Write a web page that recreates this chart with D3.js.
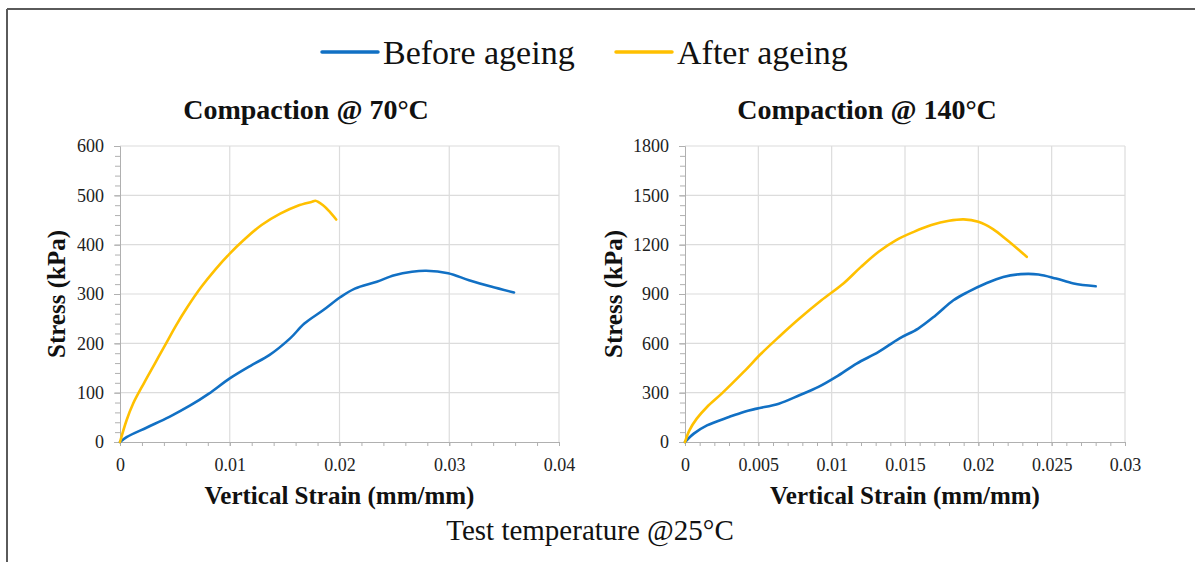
<!DOCTYPE html>
<html>
<head>
<meta charset="utf-8">
<script src="https://cdn.jsdelivr.net/npm/d3@7"></script>
<style>
  html, body { margin: 0; padding: 0; background: #fff; }
  svg { display: block; font-family: "Liberation Serif", "Times New Roman", serif; }
</style>
</head>
<body>
<svg id="chart" width="1195" height="562"></svg>
<script>
// Series names and colours
const seriesNames = ["Before ageing", "After ageing"];
const seriesColors = ["#1170C4", "#FFC000"];

// Compaction @ 70°C : [strain, stress kPa]
const before70 = [
  [0, 0], [0.0006, 10], [0.0025, 30], [0.0045, 51], [0.0064, 74], [0.0081, 98],
  [0.0100, 129], [0.0120, 156], [0.0136, 176], [0.0155, 210], [0.0168, 240],
  [0.0185, 267], [0.0201, 294], [0.0214, 311], [0.0234, 325], [0.0250, 338],
  [0.0266, 345], [0.0279, 347], [0.0299, 342], [0.0318, 328], [0.0338, 315],
  [0.0359, 303]
];
const after70 = [
  [0, 0], [0.0006, 44], [0.0012, 78], [0.0022, 120], [0.0032, 160], [0.0042, 200],
  [0.0051, 236], [0.0061, 272], [0.0074, 314], [0.0087, 350], [0.0100, 382],
  [0.0113, 410], [0.0129, 440], [0.0146, 463], [0.0162, 479], [0.0175, 487],
  [0.0178, 489], [0.0185, 480], [0.0191, 467], [0.0197, 451]
];

// Compaction @ 140°C : [strain, stress kPa]
const before140 = [
  [0, 0], [0.0006, 51], [0.0015, 101], [0.0030, 152], [0.0040, 183], [0.0049, 203],
  [0.0064, 233], [0.0078, 284], [0.0091, 335], [0.0103, 396], [0.0117, 477],
  [0.0132, 548], [0.0146, 629], [0.0159, 690], [0.0171, 771], [0.0183, 862],
  [0.0193, 913], [0.0205, 964], [0.0217, 1004], [0.0229, 1021], [0.0241, 1019],
  [0.0253, 994], [0.0265, 964], [0.0280, 947]
];
const after140 = [
  [0, 0], [0.0003, 71], [0.0008, 142], [0.0015, 213], [0.0025, 294], [0.0040, 426],
  [0.0052, 538], [0.0064, 639], [0.0078, 751], [0.0093, 862], [0.0108, 964],
  [0.0120, 1065], [0.0132, 1157], [0.0144, 1228], [0.0156, 1278], [0.0168, 1319],
  [0.0180, 1345], [0.0190, 1354], [0.0200, 1339], [0.0210, 1295], [0.0220, 1225],
  [0.0233, 1126]
];

// Axis ticks
const xTicks70 = [0, 0.01, 0.02, 0.03, 0.04];
const yTicks70 = [0, 100, 200, 300, 400, 500, 600];
const xTicks140 = [0, 0.005, 0.01, 0.015, 0.02, 0.025, 0.03];
const yTicks140 = [0, 300, 600, 900, 1200, 1500, 1800];

const svg = d3.select("#chart");

// frame (top and left edges)
svg.append("line").attr("x1", 7).attr("y1", 9).attr("x2", 1195).attr("y2", 9)
  .attr("stroke", "#5a5a5a").attr("stroke-width", 2);
svg.append("line").attr("x1", 7).attr("y1", 9).attr("x2", 7).attr("y2", 562)
  .attr("stroke", "#5a5a5a").attr("stroke-width", 2);

// legend
const legend = [
  { x1: 322, x2: 378, tx: 383 },
  { x1: 616, x2: 672, tx: 677 }
];
legend.forEach((l, i) => {
  svg.append("line").attr("x1", l.x1).attr("x2", l.x2).attr("y1", 52).attr("y2", 52)
    .attr("stroke", seriesColors[i]).attr("stroke-width", 3.5).attr("stroke-linecap", "round");
  svg.append("text").attr("x", l.tx).attr("y", 64).attr("font-size", 34)
    .attr("fill", "#111").text(seriesNames[i]);
});

function panel(cfg) {
  const x = d3.scaleLinear().domain(cfg.xDomain).range([cfg.left, cfg.right]);
  const y = d3.scaleLinear().domain(cfg.yDomain).range([cfg.bottom, cfg.top]);
  const g = svg.append("g");

  // grid
  g.append("g").selectAll("line").data(cfg.yTicks.slice(1)).join("line")
    .attr("x1", cfg.left).attr("x2", cfg.right)
    .attr("y1", d => y(d)).attr("y2", d => y(d))
    .attr("stroke", "#dcdcdc").attr("stroke-width", 1.2);
  g.append("g").selectAll("line").data(cfg.xTicks.slice(1)).join("line")
    .attr("y1", cfg.top).attr("y2", cfg.bottom)
    .attr("x1", d => x(d)).attr("x2", d => x(d))
    .attr("stroke", "#dcdcdc").attr("stroke-width", 1.2);

  // minor ticks
  const yMinor = d3.range(cfg.yDomain[0], cfg.yDomain[1] + 1e-9, cfg.yMinorStep);
  const xMinor = d3.range(0, Math.round((cfg.xDomain[1] - cfg.xDomain[0]) / cfg.xMinorStep) + 1)
    .map(i => cfg.xDomain[0] + i * cfg.xMinorStep);
  g.append("g").attr("transform", `translate(${cfg.left},0)`)
    .call(d3.axisLeft(y).tickValues(yMinor).tickSize(5).tickFormat(""))
    .call(a => a.select(".domain").remove())
    .call(a => a.selectAll("line").attr("stroke", "#b0b0b0"));
  g.append("g").attr("transform", `translate(0,${cfg.bottom})`)
    .call(d3.axisBottom(x).tickValues(xMinor).tickSize(4).tickFormat(""))
    .call(a => a.select(".domain").remove())
    .call(a => a.selectAll("line").attr("stroke", "#b0b0b0"));

  // major axes
  g.append("g").attr("transform", `translate(${cfg.left},0)`)
    .call(d3.axisLeft(y).tickValues(cfg.yTicks).tickSize(6).tickPadding(10).tickFormat(d3.format("d")))
    .call(a => a.select(".domain").attr("stroke", "#b0b0b0"))
    .call(a => a.selectAll("line").attr("stroke", "#b0b0b0"))
    .call(a => a.selectAll("text").attr("font-size", 18).attr("fill", "#222")
      .attr("font-family", "Liberation Serif, Times New Roman, serif"));
  g.append("g").attr("transform", `translate(0,${cfg.bottom})`)
    .call(d3.axisBottom(x).tickValues(cfg.xTicks).tickSize(4).tickPadding(12).tickFormat(d => d === 0 ? "0" : String(+d.toFixed(3))))
    .call(a => a.select(".domain").attr("stroke", "#b0b0b0"))
    .call(a => a.selectAll("line").attr("stroke", "#b0b0b0"))
    .call(a => a.selectAll("text").attr("font-size", 18).attr("fill", "#222")
      .attr("font-family", "Liberation Serif, Times New Roman, serif"));

  // series
  const line = d3.line().x(d => x(d[0])).y(d => y(d[1])).curve(d3.curveCatmullRom.alpha(0.5));
  cfg.series.forEach((s, i) => {
    g.append("path").datum(s).attr("d", line).attr("fill", "none")
      .attr("stroke", seriesColors[i]).attr("stroke-width", 2.6)
      .attr("stroke-linejoin", "round").attr("stroke-linecap", "round");
  });

  // titles
  g.append("text").attr("x", cfg.titleX).attr("y", 119).attr("text-anchor", "middle")
    .attr("font-size", 28).attr("font-weight", "bold").attr("fill", "#111").text(cfg.title);
  g.append("text").attr("x", (cfg.left + cfg.right) / 2).attr("y", 504).attr("text-anchor", "middle")
    .attr("font-size", 25).attr("font-weight", "bold").attr("fill", "#111").text("Vertical Strain (mm/mm)");
  g.append("text")
    .attr("transform", `translate(${cfg.yLabelX},${(cfg.top + cfg.bottom) / 2}) rotate(-90)`)
    .attr("text-anchor", "middle").attr("font-size", 25).attr("font-weight", "bold")
    .attr("fill", "#111").text("Stress (kPa)");
}

panel({
  left: 120, right: 559, top: 146, bottom: 442,
  xDomain: [0, 0.04], yDomain: [0, 600],
  xTicks: xTicks70, yTicks: yTicks70, xMinorStep: 0.002, yMinorStep: 20,
  series: [before70, after70], title: "Compaction @ 70°C", titleX: 306, yLabelX: 65
});
panel({
  left: 685, right: 1125, top: 146, bottom: 442,
  xDomain: [0, 0.03], yDomain: [0, 1800],
  xTicks: xTicks140, yTicks: yTicks140, xMinorStep: 0.001, yMinorStep: 60,
  series: [before140, after140], title: "Compaction @ 140°C", titleX: 867, yLabelX: 622
});

svg.append("text").attr("x", 590).attr("y", 540).attr("text-anchor", "middle")
  .attr("font-size", 29).attr("fill", "#111").text("Test temperature @25°C");
</script>
</body>
</html>
